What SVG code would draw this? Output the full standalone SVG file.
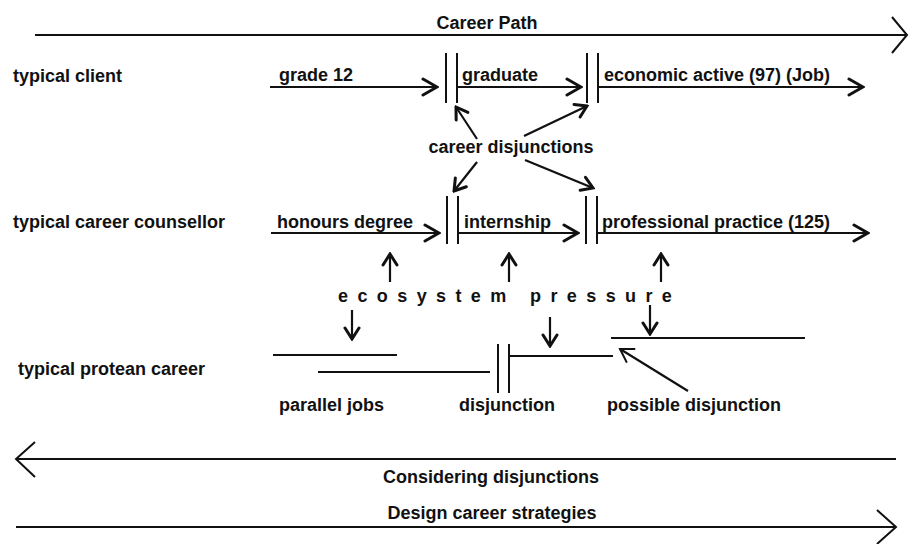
<svg xmlns="http://www.w3.org/2000/svg" width="910" height="544" viewBox="0 0 910 544">
<defs>
<style>
text{font-family:"Liberation Sans",Arial,sans-serif;font-weight:bold;font-size:18px;fill:#111}
.ln{stroke:#111;stroke-width:2.2;fill:none}
.bar{stroke:#111;stroke-width:2;fill:none}
.hd{stroke:#111;stroke-width:3;fill:none;stroke-linecap:round;stroke-linejoin:miter}
.big{stroke:#111;stroke-width:2;fill:none}
.eco{letter-spacing:2.2px}
</style>
<marker id="chev" viewBox="-18 -11 20 22" refX="0" refY="0" markerWidth="20" markerHeight="22" markerUnits="userSpaceOnUse" orient="auto">
<path d="M-14,-8 L0,0 L-14,8" class="hd"/>
</marker>
<marker id="sm" viewBox="-15 -10 17 20" refX="0" refY="0" markerWidth="17" markerHeight="20" markerUnits="userSpaceOnUse" orient="auto">
<path d="M-11,-7 L0,0 L-11,7" class="hd"/>
</marker>
<marker id="open" viewBox="-16 -10 18 20" refX="0" refY="0" markerWidth="18" markerHeight="20" markerUnits="userSpaceOnUse" orient="auto">
<path d="M-13,-8 L0,0 L-13,8" stroke="#111" stroke-width="2" fill="none"/>
</marker>
</defs>
<rect width="910" height="544" fill="#fff"/>

<g id="career-path">
<text x="487" y="29" text-anchor="middle">Career Path</text>
<line x1="35" y1="35" x2="907" y2="35" class="big"/>
<polyline points="892,17 907,35 892,53" class="big"/>
</g>

<g id="row-labels">
<text x="13" y="82">typical client</text>
<text x="13" y="228">typical career counsellor</text>
<text x="18" y="375">typical protean career</text>
</g>

<g id="client-grade12"><text x="279" y="81">grade 12</text></g>
<g id="client-graduate"><text x="462" y="81">graduate</text></g>
<g id="client-economic"><text x="604" y="81">economic active (97) (Job)</text></g>
<g id="client-bars">
<line x1="446" y1="53" x2="446" y2="103" class="bar"/>
<line x1="457" y1="53" x2="457" y2="103" class="bar"/>
<line x1="587" y1="53" x2="587" y2="103" class="bar"/>
<line x1="598" y1="53" x2="598" y2="103" class="bar"/>
</g>

<g id="counsellor-honours"><text x="277" y="228">honours degree</text></g>
<g id="counsellor-internship"><text x="464" y="228">internship</text></g>
<g id="counsellor-practice"><text x="602" y="228">professional practice (125)</text></g>
<g id="counsellor-bars">
<line x1="447" y1="196" x2="447" y2="244" class="bar"/>
<line x1="458" y1="196" x2="458" y2="244" class="bar"/>
<line x1="586" y1="196" x2="586" y2="244" class="bar"/>
<line x1="597" y1="196" x2="597" y2="244" class="bar"/>
</g>

<g id="career-disjunctions"><text x="511" y="153" text-anchor="middle">career disjunctions</text></g>

<g id="ecosystem-pressure">
<text x="338" y="302" class="eco">e c o s y s t e m</text>
<text x="530" y="302" class="eco">p r e s s u r e</text>
</g>

<g id="protean-lines">
<line x1="273" y1="355" x2="397" y2="355" class="ln"/>
<line x1="318" y1="372" x2="490" y2="372" class="ln"/>
<line x1="498" y1="344" x2="498" y2="393" class="bar"/>
<line x1="509" y1="344" x2="509" y2="393" class="bar"/>
<line x1="509" y1="356" x2="613" y2="356" class="ln"/>
<line x1="611" y1="338" x2="805" y2="338" class="ln"/>
</g>
<g id="parallel-jobs"><text x="279" y="411">parallel jobs</text></g>
<g id="disjunction"><text x="459" y="411">disjunction</text></g>
<g id="possible-disjunction"><text x="607" y="411">possible disjunction</text></g>

<g id="considering">
<line x1="16" y1="459" x2="896" y2="459" class="big"/>
<polyline points="35,442 16,459 35,477" class="big"/>
<text x="491" y="483" text-anchor="middle">Considering disjunctions</text>
</g>
<g id="design">
<text x="492" y="519" text-anchor="middle">Design career strategies</text>
<line x1="16" y1="527" x2="896" y2="527" class="big"/>
<polyline points="877,510 896,527 877,544" class="big"/>
</g>

<g id="connectors">
<line x1="270" y1="87" x2="437" y2="87" class="ln" marker-end="url(#chev)"/>
<line x1="457" y1="87" x2="581" y2="87" class="ln" marker-end="url(#chev)"/>
<line x1="598" y1="87" x2="863" y2="87" class="ln" marker-end="url(#chev)"/>
<line x1="271" y1="233" x2="439" y2="233" class="ln" marker-end="url(#chev)"/>
<line x1="458" y1="233" x2="578" y2="233" class="ln" marker-end="url(#chev)"/>
<line x1="597" y1="233" x2="868" y2="233" class="ln" marker-end="url(#chev)"/>

<line x1="477" y1="139" x2="456" y2="107" class="ln" marker-end="url(#sm)"/>
<line x1="524" y1="136" x2="587" y2="106" class="ln" marker-end="url(#sm)"/>
<line x1="477" y1="162" x2="454" y2="191" class="ln" marker-end="url(#sm)"/>
<line x1="525" y1="160" x2="593" y2="188" class="ln" marker-end="url(#sm)"/>

<line x1="390" y1="282" x2="390" y2="254" class="ln" marker-end="url(#sm)"/>
<line x1="509" y1="282" x2="509" y2="254" class="ln" marker-end="url(#sm)"/>
<line x1="661" y1="282" x2="661" y2="254" class="ln" marker-end="url(#sm)"/>
<line x1="352" y1="310" x2="352" y2="339" class="ln" marker-end="url(#sm)"/>
<line x1="550" y1="317" x2="550" y2="346" class="ln" marker-end="url(#sm)"/>
<line x1="650" y1="305" x2="650" y2="334" class="ln" marker-end="url(#sm)"/>

<line x1="688" y1="391" x2="620" y2="349" class="ln" marker-end="url(#open)"/>
</g>
</svg>
